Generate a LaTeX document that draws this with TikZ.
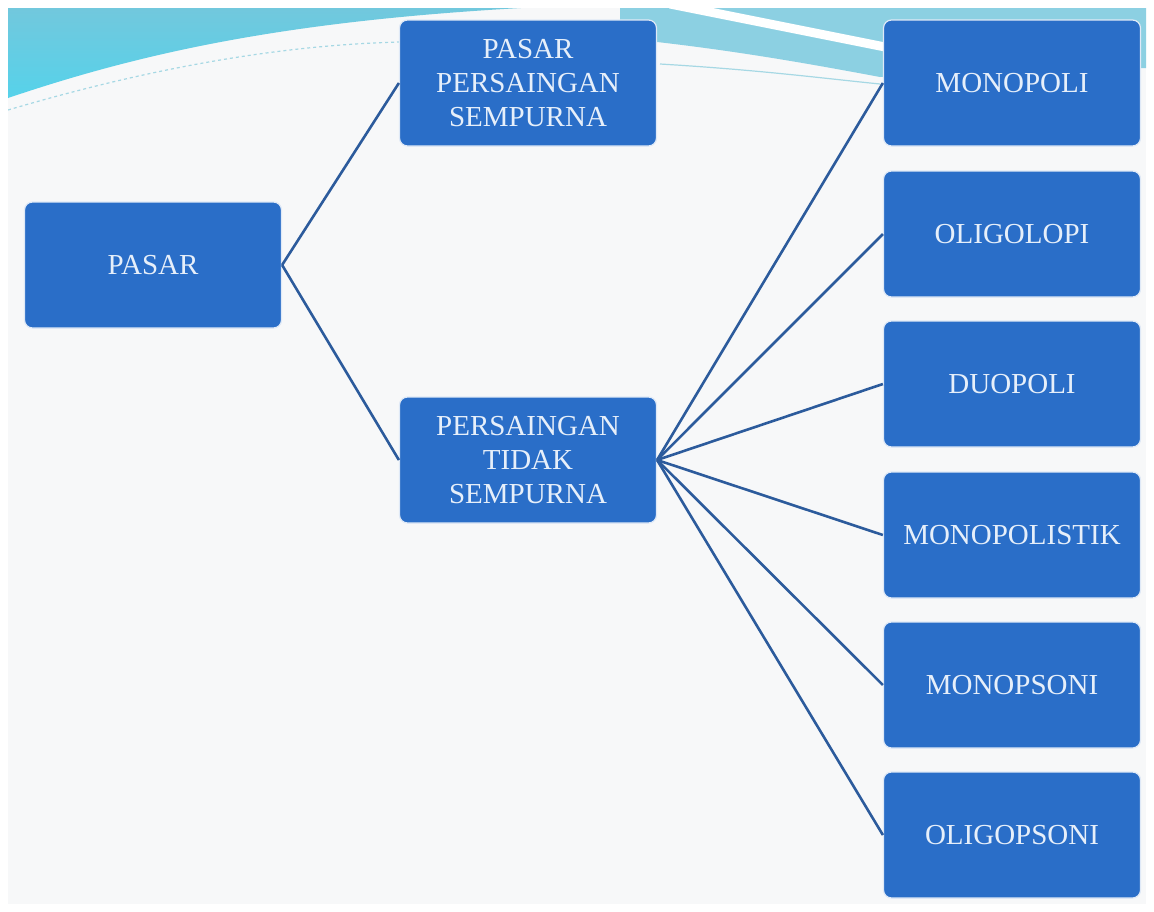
\documentclass[tikz,border=0pt]{standalone}
\usepackage{fontspec}
\setmainfont{Liberation Serif}
\definecolor{boxblue}{HTML}{2A6EC8}
\definecolor{linkblue}{HTML}{2C5B9C}
\definecolor{txt}{HTML}{E6EFFA}
\definecolor{slidebg}{HTML}{F7F8F9}
\definecolor{tealA}{HTML}{74C7DC}
\definecolor{tealB}{HTML}{56D2EA}
\definecolor{tealC}{HTML}{8CD0E2}
\definecolor{faint}{HTML}{A6D8E4}
\tikzset{
  mbox/.style={draw=white!85!boxblue, line width=1.2pt, fill=boxblue, rounded corners=8pt,
    minimum width=257pt, minimum height=126pt, inner sep=0pt, text=txt, align=center,
    font=\fontsize{29}{34}\selectfont},
  link/.style={draw=linkblue, line width=2.6pt}
}
\begin{document}
\begin{tikzpicture}[x=1pt,y=-1pt]
\useasboundingbox (0,0) rectangle (1154,911);
\fill[white] (0,0) rectangle (1154,911);
\fill[slidebg] (8,8) rectangle (1146,904);
\begin{scope}
\clip (8,8) rectangle (1146,904);
\shade[top color=tealA, bottom color=tealB] (8,0) -- (8,98) .. controls (150,50) and (300,18) .. (560,6) -- (560,0) -- cycle;
\fill[tealC] (620,0) -- (620,38) .. controls (720,48) and (800,62) .. (880,77) -- (1146,68) -- (1146,0) -- cycle;
\draw[white, line width=9pt] (670,4) -- (900,50);
\draw[faint, line width=1.2pt, dashed] (8,110) .. controls (150,68) and (280,45) .. (400,42);
\draw[faint, line width=1.2pt] (660,64) .. controls (760,70) and (820,78) .. (880,84);
\end{scope}

\node[mbox] (pasar) at (153,265) {PASAR};
\node[mbox] (pps) at (528,83) {PASAR\\PERSAINGAN\\SEMPURNA};
\node[mbox] (pts) at (528,460) {PERSAINGAN\\TIDAK\\SEMPURNA};
\node[mbox] (mono) at (1012,83) {MONOPOLI};
\node[mbox] (oligo) at (1012,234) {OLIGOLOPI};
\node[mbox] (duo) at (1012,384) {DUOPOLI};
\node[mbox] (monopol) at (1012,535) {MONOPOLISTIK};
\node[mbox] (monops) at (1012,685) {MONOPSONI};
\node[mbox] (oligops) at (1012,835) {OLIGOPSONI};

\draw[link] (pasar.east) -- (pps.west);
\draw[link] (pasar.east) -- (pts.west);
\foreach \n in {mono,oligo,duo,monopol,monops,oligops}
  \draw[link] (pts.east) -- (\n.west);
\end{tikzpicture}
\end{document}
